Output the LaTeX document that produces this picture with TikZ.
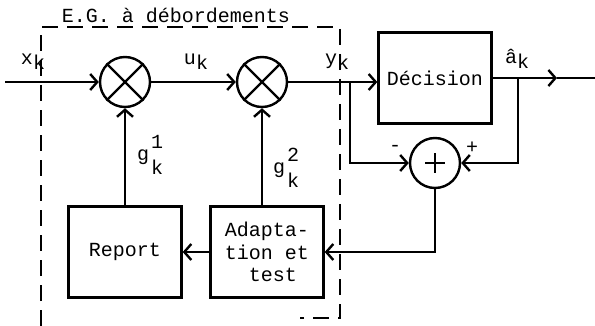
\documentclass[tikz,border=0pt]{standalone}
\usepackage{fontspec}
\setmainfont{Liberation Mono}
\usetikzlibrary{arrows.meta}
\newcommand{\ind}[2]{#1\raisebox{-0.5ex}{#2}}
\begin{document}
\begin{tikzpicture}[x=1pt,y=-1pt,font=\fontsize{20}{22.5}\selectfont,
  bloc/.style={draw,line width=2.4pt,minimum width=113pt,minimum height=91pt,inner sep=0pt},
  mult/.style={draw,circle,line width=2.4pt,minimum size=50pt,inner sep=0pt},
  fl/.style={line width=2.4pt,-{Straight Barb[length=7pt,width=16pt]}},
  lien/.style={line width=2.4pt},
  cadre/.style={line width=1.4pt,dash pattern=on 16pt off 9pt}]
\useasboundingbox (0,0) rectangle (595,326);
\def\yL{82};
% blocs
\node[mult] (m1) at (125,\yL) {};
\node[mult] (m2) at (262,\yL) {};
\node[mult] (add) at (435,163) {};
\node[bloc] (dec) at (435,78) {Décision};
\node[bloc] (report) at (125,252) {Report};
\node[bloc,align=left] (adapt) at (267,252) {Adapta-\\tion et\\\phantom{ti}test};
\draw[lien] (m1.north west)--(m1.south east) (m1.north east)--(m1.south west);
\draw[lien] (m2.north west)--(m2.south east) (m2.north east)--(m2.south west);
\draw[line width=1.6pt] ([xshift=-10pt]add.center)--([xshift=10pt]add.center)
  ([yshift=-10pt]add.center)--([yshift=10pt]add.center);
% liaisons
\coordinate (in) at (5,\yL);
\coordinate (ty) at (350,\yL);
\coordinate (ta) at (518,78);
\coordinate (fleche) at (557,78);
\coordinate (out) at (595,78);
\draw[fl] (in) -- (m1);
\draw[fl] (m1) -- (m2);
\draw[fl] (m2.east) -- (m2.east -| dec.west);
\draw[fl] (ty) |- (add);
\draw[fl] (dec.east) -- (fleche);
\draw[lien] (fleche) -- (out);
\draw[fl] (ta) |- (add);
\draw[fl] (add.south) |- (adapt.east);
\draw[fl] (adapt.west) -- (report.east);
\draw[fl] (report.north) -- (m1.south);
\draw[fl] (m2 |- adapt.north) -- (m2.south);
% etiquettes
\node (lx) at (33,62) {\ind{x}{k}};
\node (lu) at (196,62) {\ind{u}{k}};
\node (ly) at (337,62) {\ind{y}{k}};
\node (la) at (517,59) {\ind{â}{k}};
\node (lg1) at (143,157) {g};
\node (lg1k) at (157,167) {k};
\node (lg1e) at (157,142) {1};
\node (lg2) at (279,170) {g};
\node (lg2k) at (293,180) {k};
\node (lg2e) at (293,155) {2};
\node (moins) at (395,148) {-};
\node (plus) at (472,148) {+};
% cadre
\draw[cadre] (41,326) -- (41,27) -- (340,27) -- (340,318) -- (300,318);
\node[anchor=base,inner sep=1pt] (titre) at (176,23) {E.G. à débordements};
\end{tikzpicture}
\end{document}
